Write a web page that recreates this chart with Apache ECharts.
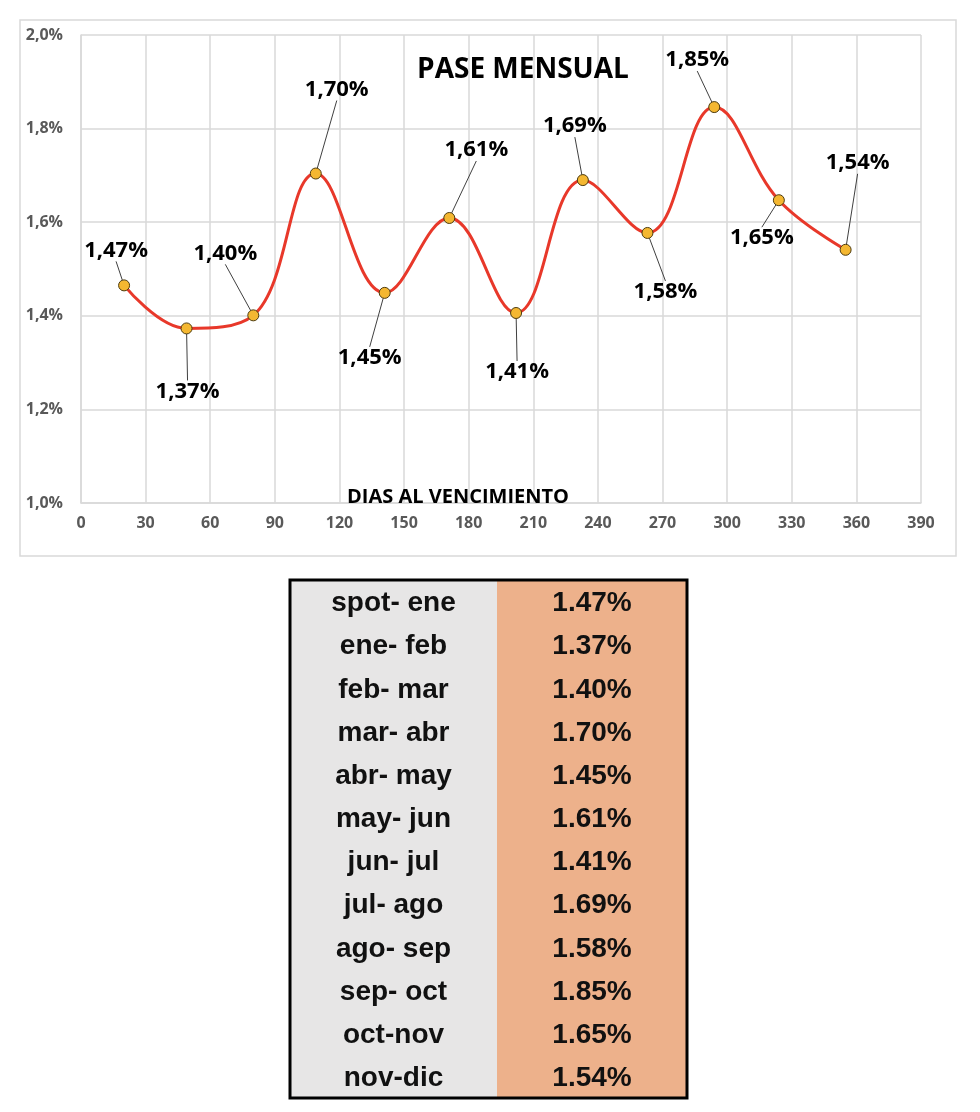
<!DOCTYPE html>
<html>
<head>
<meta charset="utf-8">
<script src="https://cdn.jsdelivr.net/npm/echarts@6/dist/echarts.min.js"></script>
<style>
html,body{margin:0;padding:0;background:#fff;}
#main{width:980px;height:1112px;}
</style>
</head>
<body>
<div id="main"></div>
<script>
// ---- data ----
const days = [20, 49, 80, 109, 141, 171, 202, 233, 263, 294, 324, 355];
const curveValues = [1.465, 1.373, 1.401, 1.704, 1.449, 1.609, 1.406, 1.690, 1.577, 1.846, 1.647, 1.541];
const periods = ['spot- ene', 'ene- feb', 'feb- mar', 'mar- abr', 'abr- may', 'may- jun', 'jun- jul', 'jul- ago', 'ago- sep', 'sep- oct', 'oct-nov', 'nov-dic'];
const passValues = [1.47, 1.37, 1.40, 1.70, 1.45, 1.61, 1.41, 1.69, 1.58, 1.85, 1.65, 1.54];
const yTicks = { min: 1.0, max: 2.0, step: 0.2 };
const xTicks = { min: 0, max: 390, step: 30 };

// ---- layout (not data) ----
const labelOffsets = [[-8,-35],[1,63],[-28,-62],[21,-84],[-15,65],[27,-68],[1,59],[-8,-54],[18,59],[-17,-47],[-17,38],[12,-87]];
const FONT = '"Open Sans", "Liberation Sans", sans-serif';
const TFONT = '"Liberation Sans", Arial, sans-serif';

const chart = echarts.init(document.getElementById('main'), null, {renderer: 'canvas'});

const seriesData = days.map((d, i) => [d, curveValues[i]]);

// table graphics
const tbl = { x0: 290, x1: 497, x2: 687, y0: 580, y1: 1098 };
const rowH = (tbl.y1 - tbl.y0) / periods.length;
const graphics = [
  { type: 'rect', shape: { x: 20, y: 20, width: 936, height: 536 }, style: { fill: 'none', stroke: '#d9d9d9', lineWidth: 1.5 }, z: 0 },
  { type: 'text', x: 523, y: 70, style: { text: 'PASE MENSUAL', font: 'bold 28px ' + FONT, fill: '#000', textAlign: 'center', textVerticalAlign: 'middle' }, z: 10 },
  { type: 'text', x: 458, y: 497, style: { text: 'DIAS AL VENCIMIENTO', font: 'bold 20px ' + FONT, fill: '#000', textAlign: 'center', textVerticalAlign: 'middle' }, z: 10 },
  { type: 'rect', shape: { x: tbl.x0, y: tbl.y0, width: tbl.x1 - tbl.x0, height: tbl.y1 - tbl.y0 }, style: { fill: '#e7e6e6' }, z: 1 },
  { type: 'rect', shape: { x: tbl.x1, y: tbl.y0, width: tbl.x2 - tbl.x1, height: tbl.y1 - tbl.y0 }, style: { fill: '#edb18b' }, z: 1 },
  { type: 'rect', shape: { x: tbl.x0, y: tbl.y0, width: tbl.x2 - tbl.x0, height: tbl.y1 - tbl.y0 }, style: { fill: 'none', stroke: '#000', lineWidth: 3 }, z: 5 }
];
periods.forEach((p, i) => {
  const cy = tbl.y0 + rowH * (i + 0.5) + 2;
  graphics.push({ type: 'text', x: (tbl.x0 + tbl.x1) / 2, y: cy, style: { text: p, font: 'bold 28px ' + TFONT, fill: '#111', textAlign: 'center', textVerticalAlign: 'middle' }, z: 6 });
  graphics.push({ type: 'text', x: (tbl.x1 + tbl.x2) / 2, y: cy, style: { text: passValues[i].toFixed(2) + '%', font: 'bold 28px ' + TFONT, fill: '#111', textAlign: 'center', textVerticalAlign: 'middle' }, z: 6 });
});

const option = {
  animation: false,
  backgroundColor: '#fff',
  grid: { left: 81, top: 35, right: 59, bottom: 609, containLabel: false },
  xAxis: {
    type: 'value', min: xTicks.min, max: xTicks.max, interval: xTicks.step,
    axisLine: { show: true, lineStyle: { color: '#d9d9d9', width: 1.5 } },
    axisTick: { show: false },
    axisLabel: { color: '#595959', fontWeight: 'bold', fontSize: 16, fontFamily: FONT, margin: 12 },
    splitLine: { show: true, lineStyle: { color: '#d9d9d9', width: 1.5 } }
  },
  yAxis: {
    type: 'value', min: yTicks.min, max: yTicks.max, interval: yTicks.step,
    axisLine: { show: true, lineStyle: { color: '#d9d9d9', width: 1.5 } },
    axisTick: { show: false },
    axisLabel: { color: '#595959', fontWeight: 'bold', fontSize: 16, fontFamily: FONT, margin: 18,
      formatter: v => v.toFixed(1).replace('.', ',') + '%' },
    splitLine: { show: true, lineStyle: { color: '#d9d9d9', width: 1.5 } }
  },
  series: [{
    type: 'line',
    data: seriesData,
    smooth: 0.4,
    symbol: 'circle',
    symbolSize: 11,
    lineStyle: { color: '#e8382a', width: 3 },
    itemStyle: { color: '#f4b731', borderColor: '#4d3c10', borderWidth: 1 },
    label: {
      show: true, position: 'inside',
      formatter: p => passValues[p.dataIndex].toFixed(2).replace('.', ',') + '%',
      color: '#000', fontWeight: 'bold', fontSize: 22, fontFamily: FONT
    },
    labelLine: { show: true, lineStyle: { color: '#404040', width: 1 } },
    labelLayout: p => ({ dx: labelOffsets[p.dataIndex][0], dy: labelOffsets[p.dataIndex][1] }),
    emphasis: { disabled: true },
    z: 5
  }],
  graphic: graphics
};
chart.setOption(option);
</script>
</body>
</html>
